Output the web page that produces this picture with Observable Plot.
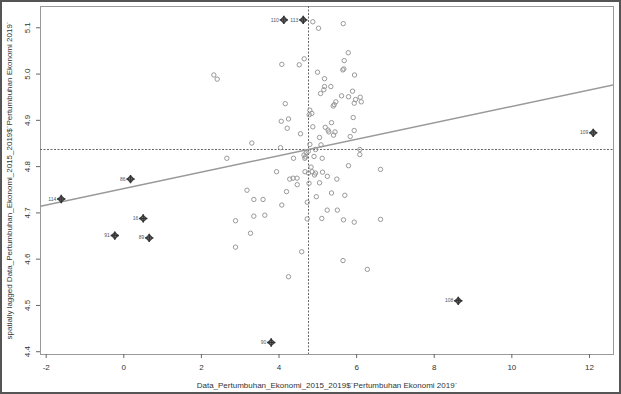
<!DOCTYPE html>
<html>
<head>
<meta charset="utf-8">
<script src="https://cdn.jsdelivr.net/npm/d3@7"></script>
<script src="https://cdn.jsdelivr.net/npm/@observablehq/plot@0.6"></script>
<style>
  html, body { margin: 0; padding: 0; background: #fff; }
  #wrap { position: relative; width: 621px; height: 394px; overflow: hidden; }
  #border { position: absolute; left: 0; top: 0; width: 621px; height: 394px; box-sizing: border-box; border: 2px solid #555; pointer-events: none; }
</style>
</head>
<body>
<div id="wrap"><div id="chart"></div><div id="border"></div></div>
<script>
// Regular observations (x = growth 2019, y = spatially lagged growth)
const ptX = [4.871,5.018,5.655,5.784,5.680,5.644,5.670,5.946,4.072,4.521,4.649,4.992,5.173,2.320,2.407,5.335,5.173,5.155,5.070,5.894,5.611,5.791,5.972,6.093,6.119,5.938,5.464,5.423,5.397,4.160,4.794,4.845,4.778,4.057,4.245,4.211,5.912,4.871,5.353,5.191,5.263,5.284,5.443,5.405,5.938,5.835,4.554,5.044,5.082,4.794,3.299,4.039,6.082,6.082,4.753,4.701,4.644,4.683,4.665,4.941,4.902,5.113,4.374,2.655,5.791,6.616,4.825,4.851,4.670,4.760,4.941,4.915,5.121,5.245,5.490,3.936,4.276,4.361,4.464,4.469,4.773,5.044,3.175,3.351,3.588,4.193,4.961,5.353,5.696,4.072,4.729,2.879,3.351,3.634,3.265,4.727,5.103,5.242,5.503,5.662,5.938,6.616,2.879,4.585,5.649,6.276,4.245];
const ptY = [5.113,5.099,5.109,5.046,5.029,5.009,5.011,4.998,5.021,5.020,5.033,5.004,4.990,4.998,4.989,4.973,4.973,4.966,4.958,4.963,4.953,4.951,4.945,4.950,4.940,4.937,4.940,4.934,4.931,4.936,4.922,4.915,4.912,4.898,4.903,4.883,4.906,4.886,4.895,4.885,4.879,4.875,4.875,4.868,4.878,4.865,4.871,4.863,4.847,4.848,4.851,4.841,4.837,4.826,4.833,4.830,4.825,4.821,4.818,4.837,4.822,4.818,4.818,4.818,4.802,4.794,4.799,4.789,4.789,4.786,4.786,4.782,4.788,4.779,4.773,4.789,4.773,4.775,4.775,4.761,4.764,4.765,4.749,4.729,4.729,4.746,4.735,4.743,4.738,4.717,4.723,4.683,4.693,4.695,4.656,4.687,4.688,4.706,4.706,4.685,4.680,4.686,4.626,4.616,4.597,4.578,4.562];

// Influential observations
const inflId = ["110","113","109","86","114","16","91","89","108","90"];
const inflX = [4.124,4.624,12.098,0.173,-1.613,0.500,-0.232,0.655,8.619,3.799];
const inflY = [5.117,5.117,4.873,4.773,4.730,4.688,4.651,4.646,4.510,4.420];

// Means and regression line
const meanX = 4.760;
const meanY = 4.837;
const slope = 0.01774;
const intercept = 4.7526;

// Axes
const xDomain = [-2.147, 12.62];
const yDomain = [4.394, 5.146];
const xTicks = [-2, 0, 2, 4, 6, 8, 10, 12];
const yTicks = [4.4, 4.5, 4.6, 4.7, 4.8, 4.9, 5.0, 5.1];
const xTitle = "Data_Pertumbuhan_Ekonomi_2015_2019$`Pertumbuhan Ekonomi 2019`";
const yTitle = "spatially lagged Data_Pertumbuhan_Ekonomi_2015_2019$`Pertumbuhan Ekonomi 2019`";

const pts = ptX.map((x, i) => ({x, y: ptY[i]}));
const infl = inflId.map((id, i) => ({id, x: inflX[i], y: inflY[i]}));

const chart = Plot.plot({
  width: 621,
  height: 394,
  marginLeft: 40,
  marginRight: 8,
  marginTop: 6,
  marginBottom: 40,
  x: {domain: xDomain},
  y: {domain: yDomain},
  style: {fontFamily: "'Liberation Sans', Arial, sans-serif", fontSize: "8px", color: "#333", background: "#fff"},
  marks: [
    Plot.frame({stroke: "#999"}),
    Plot.axisX({ticks: xTicks, tickSize: 4, tickPadding: 6, tickFormat: d => String(d), label: null, stroke: "#666"}),
    Plot.axisY({ticks: yTicks, tickSize: 4, tickFormat: () => "", label: null, stroke: "#666"}),
    Plot.text(yTicks, {y: d => d, frameAnchor: "left", dx: -13, rotate: -90, textAnchor: "middle", lineAnchor: "middle", text: d => d.toFixed(1), fill: "#333"}),
    Plot.ruleX([meanX], {stroke: "#666", strokeDasharray: "2,1.5", strokeWidth: 1}),
    Plot.ruleY([meanY], {stroke: "#666", strokeDasharray: "2,1.5", strokeWidth: 1}),
    Plot.line(xDomain, {x: d => d, y: d => intercept + slope * d, stroke: "#999", strokeWidth: 1.5, clip: true}),
    Plot.dot(pts, {x: "x", y: "y", r: 2.2, stroke: "#999", strokeWidth: 1}),
    Plot.dot(infl, {x: "x", y: "y", symbol: "diamond2", r: 2.7, stroke: "#444", strokeWidth: 1.6}),
    Plot.dot(infl, {x: "x", y: "y", symbol: "plus", r: 2.8, stroke: "#333", strokeWidth: 1.4}),
    Plot.text(infl, {x: "x", y: "y", text: "id", dx: -5, textAnchor: "end", fontSize: 5, fill: "#555"}),
    Plot.text([xTitle], {frameAnchor: "bottom", dy: 33, text: d => d, fill: "#333"}),
    Plot.text([yTitle], {frameAnchor: "left", dx: -31, rotate: -90, textAnchor: "middle", lineAnchor: "middle", text: d => d, fill: "#333"})
  ]
});
document.getElementById("chart").appendChild(chart);
</script>
</body>
</html>
